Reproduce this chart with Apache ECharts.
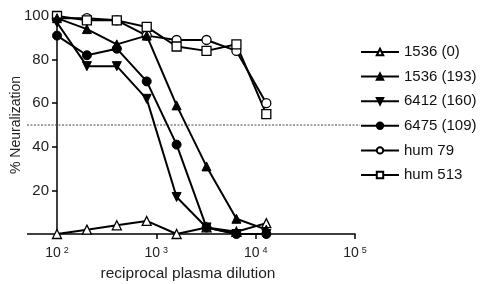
<!DOCTYPE html>
<html>
<head>
<meta charset="utf-8">
<script src="https://cdn.jsdelivr.net/npm/echarts@6/dist/echarts.min.js"></script>
<style>
  html, body { margin: 0; padding: 0; background: #fff; }
  #chart { width: 489px; height: 284px; }
</style>
</head>
<body>
<div id="chart"></div>
<script>
// reciprocal plasma dilutions (x)
var dilutions = [100, 200, 400, 800, 1600, 3200, 6400, 12800];

// % neutralization per sample
var s1536_0   = [0, 2, 4, 6, 0, 3, 1, 5];
var s1536_193 = [99, 94, 87, 91, 59, 31, 7, 2];
var s6412_160 = [97, 77, 77, 62, 17, 3, 0, 0];
var s6475_109 = [91, 82, 85, 70, 41, 3, 0, 0];
var hum79     = [99, 99, 98, 91, 89, 89, 84, 60];
var hum513    = [100, 98, 98, 95, 86, 84, 87, 55];

var seriesNames = ['1536 (0)', '1536 (193)', '6412 (160)', '6475 (109)', 'hum 79', 'hum 513'];
var yTicks = [20, 40, 60, 80, 100];

var FONT = 'Liberation Sans';
var chart = echarts.init(document.getElementById('chart'));

function pairs(vals) {
    return dilutions.map(function (d, i) { return [d, vals[i]]; });
}

function mkSeries(name, vals, symbol, open, rotate, size) {
    return {
        name: name,
        type: 'line',
        data: pairs(vals),
        symbol: symbol,
        symbolSize: size,
        symbolRotate: rotate,
        showSymbol: true,
        clip: false,
        lineStyle: { color: '#000', width: 2 },
        itemStyle: open
            ? { color: '#fff', borderColor: '#000', borderWidth: 1.3 }
            : { color: '#000', borderColor: '#000', borderWidth: 1 },
        emphasis: { disabled: true },
        z: open ? 3 : 4
    };
}

var options = {
    animation: false,
    backgroundColor: '#fff',
    textStyle: { fontFamily: FONT, color: '#000' },
    grid: { left: 57, right: 134, top: 16, bottom: 50, containLabel: false, outerBoundsMode: 'none' },
    legend: {
        orient: 'vertical',
        left: 355,
        top: 39.5,
        itemWidth: 38,
        itemHeight: 8,
        itemGap: 9.6,
        data: seriesNames,
        textStyle: { fontFamily: FONT, fontSize: 15, color: '#111' },
        inactiveColor: '#000'
    },
    xAxis: {
        type: 'log',
        logBase: 10,
        min: 100,
        max: 100000,
        name: 'reciprocal plasma dilution',
        nameLocation: 'middle',
        nameGap: 32,
        nameMoveOverlap: false,
        nameTextStyle: { fontFamily: FONT, fontSize: 15.5, color: '#222', padding: [0, 36, 0, 0] },
        axisLine: { lineStyle: { color: '#000', width: 1.5 } },
        axisTick: { show: true, length: 5, lineStyle: { color: '#000', width: 1.5 } },
        minorTick: { show: false },
        splitLine: { show: false },
        axisLabel: {
            margin: 12,
            fontFamily: FONT,
            color: '#222',
            formatter: function (v) {
                return '{b|10}{s|' + Math.round(Math.log10(v)) + '}';
            },
            rich: {
                b: { fontFamily: FONT, fontSize: 14, color: '#222', lineHeight: 14, verticalAlign: 'bottom' },
                s: { fontFamily: FONT, fontSize: 9, color: '#222', lineHeight: 9, verticalAlign: 'top', padding: [0, 0, 0, 3] }
            }
        }
    },
    yAxis: {
        type: 'value',
        min: 0,
        max: 100,
        interval: 20,
        name: '% Neuralization',
        nameLocation: 'middle',
        nameGap: 34,
        nameMoveOverlap: false,
        nameTextStyle: { fontFamily: FONT, fontSize: 14, color: '#222' },
        axisLine: { show: true, lineStyle: { color: '#000', width: 1.5 } },
        axisTick: { show: true, length: 5, lineStyle: { color: '#000', width: 1.5 } },
        splitLine: { show: false },
        axisLabel: {
            margin: 8,
            fontFamily: FONT,
            fontSize: 15,
            color: '#222',
            showMinLabel: false,
            formatter: function (v) { return yTicks.indexOf(v) >= 0 ? String(v) : ''; }
        }
    },
    series: [
        mkSeries(seriesNames[0], s1536_0, 'triangle', true, 0, 9),
        mkSeries(seriesNames[1], s1536_193, 'triangle', false, 0, 9),
        mkSeries(seriesNames[2], s6412_160, 'triangle', false, 180, 9),
        mkSeries(seriesNames[3], s6475_109, 'circle', false, 0, 9),
        mkSeries(seriesNames[4], hum79, 'circle', true, 0, 9),
        mkSeries(seriesNames[5], hum513, 'rect', true, 0, 9)
    ]
};
chart.setOption(options);

// dashed 50% line and the left stub of the x axis, placed through the axis scale
var y50 = chart.convertToPixel({ yAxisIndex: 0 }, 50);
var y0 = chart.convertToPixel({ yAxisIndex: 0 }, 0);
var xLeft = chart.convertToPixel({ xAxisIndex: 0 }, 100);
chart.setOption({
    graphic: [
        {
            type: 'line', z: 1,
            shape: { x1: 27, y1: y50, x2: 360, y2: y50 },
            style: { stroke: '#444', lineWidth: 1, lineDash: [2, 1.5] }
        },
        {
            type: 'line', z: 1,
            shape: { x1: 27, y1: y0, x2: xLeft, y2: y0 },
            style: { stroke: '#000', lineWidth: 1.5 }
        }
    ]
});
</script>
</body>
</html>
